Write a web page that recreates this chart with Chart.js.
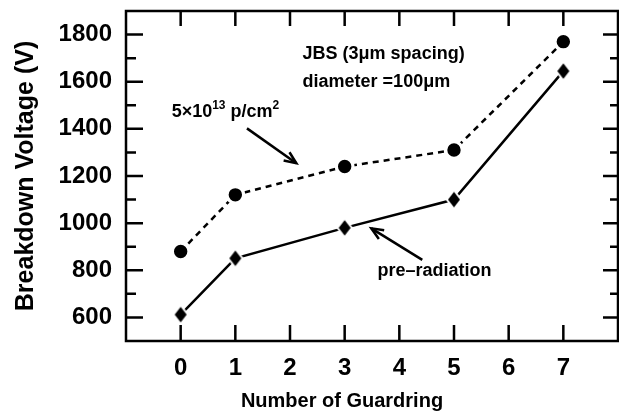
<!DOCTYPE html>
<html>
<head>
<meta charset="utf-8">
<script src="https://cdn.jsdelivr.net/npm/chart.js@4.4.1/dist/chart.umd.min.js"></script>
<style>
  html, body { margin: 0; padding: 0; background: #fff; }
</style>
</head>
<body>
<canvas id="myChart" width="619" height="416"></canvas>
<script>
// data
const guardrings = [0, 1, 3, 5, 7];
const irradiated = [880, 1120, 1240, 1310, 1770];    // 5x10^13 p/cm2 (circles, dashed)
const preRadiation = [612, 851, 980, 1100, 1645];    // pre-radiation (diamonds, solid)

const xTickValues = [0, 1, 2, 3, 4, 5, 6, 7];
const yTickValues = [600, 800, 1000, 1200, 1400, 1600, 1800];
const yMinorValues = [700, 900, 1100, 1300, 1500, 1700];

const FONT = '"Liberation Sans", Arial, Helvetica, sans-serif';

// in-plot labels, anchored in data units
const notes = [
    { text: 'JBS (3\u03bcm spacing)', x: 2.23, y: 1698 },
    { text: 'diameter =100\u03bcm', x: 2.23, y: 1578 },
    { text: 'pre\u2013radiation', x: 3.60, y: 774 }
];
const fluenceLabel = { x: -0.165, y: 1452 };
const arrows = [
    { from: [1.213, 1402], to: [2.116, 1254] },
    { from: [4.42, 844], to: [3.488, 978] }
];

// diamond marker with a white halo so the line stops short of it
function makeDiamond(hw, hh, halo) {
    const c = document.createElement('canvas');
    c.width = Math.ceil(2 * (hw + halo)) + 2;
    c.height = Math.ceil(2 * (hh + halo)) + 2;
    const g = c.getContext('2d');
    const cx = c.width / 2, cy = c.height / 2;
    const shape = (w, h, color) => {
        g.beginPath();
        g.moveTo(cx, cy - h);
        g.lineTo(cx + w, cy);
        g.lineTo(cx, cy + h);
        g.lineTo(cx - w, cy);
        g.closePath();
        g.fillStyle = color;
        g.fill();
    };
    shape(hw + halo * 0.8, hh + halo, '#fff');
    shape(hw, hh, '#000');
    return c;
}

function drawArrow(ctx, x0, y0, x1, y1) {
    const ang = Math.atan2(y1 - y0, x1 - x0);
    const len = 13, spread = 0.4;
    ctx.beginPath();
    ctx.moveTo(x0, y0);
    ctx.lineTo(x1, y1);
    ctx.stroke();
    ctx.beginPath();
    ctx.moveTo(x1 - len * Math.cos(ang - spread), y1 - len * Math.sin(ang - spread));
    ctx.lineTo(x1, y1);
    ctx.lineTo(x1 - len * Math.cos(ang + spread), y1 - len * Math.sin(ang + spread));
    ctx.stroke();
}

// no extra room around the scales; the layout padding decides the box
function noScalePadding(scale) {
    scale.paddingLeft = 0;
    scale.paddingRight = 0;
    scale.paddingTop = 0;
    scale.paddingBottom = 0;
}

const framePlugin = {
    id: 'frame',
    afterDatasetsDraw(chart) {
        const { ctx, chartArea: a, scales: { x, y } } = chart;
        ctx.save();
        ctx.strokeStyle = '#000';
        ctx.fillStyle = '#000';
        ctx.lineWidth = 2.5;

        // box
        ctx.strokeRect(a.left, a.top, a.right - a.left, a.bottom - a.top);

        // inward ticks
        ctx.beginPath();
        xTickValues.forEach(v => {
            const px = x.getPixelForValue(v);
            ctx.moveTo(px, a.bottom); ctx.lineTo(px, a.bottom - 16);
            ctx.moveTo(px, a.top); ctx.lineTo(px, a.top + 15);
        });
        yTickValues.forEach(v => {
            const py = y.getPixelForValue(v);
            ctx.moveTo(a.left, py); ctx.lineTo(a.left + 17, py);
            ctx.moveTo(a.right, py); ctx.lineTo(a.right - 15, py);
        });
        yMinorValues.forEach(v => {
            const py = y.getPixelForValue(v);
            ctx.moveTo(a.left, py); ctx.lineTo(a.left + 10, py);
            ctx.moveTo(a.right, py); ctx.lineTo(a.right - 8, py);
        });
        ctx.stroke();

        // annotations
        ctx.textBaseline = 'alphabetic';
        ctx.textAlign = 'left';
        ctx.font = 'bold 18px ' + FONT;
        notes.forEach(n => {
            ctx.fillText(n.text, x.getPixelForValue(n.x), y.getPixelForValue(n.y));
        });

        // 5x10^13 p/cm^2 with superscripts
        let fx = x.getPixelForValue(fluenceLabel.x);
        const fy = y.getPixelForValue(fluenceLabel.y);
        [['5\u00d710', false], ['13', true], [' p/cm', false], ['2', true]].forEach(([t, sup]) => {
            ctx.font = (sup ? 'bold 12px ' : 'bold 18px ') + FONT;
            ctx.fillText(t, fx, sup ? fy - 8 : fy);
            fx += ctx.measureText(t).width;
        });

        ctx.lineWidth = 2.5;
        arrows.forEach(ar => {
            drawArrow(ctx,
                x.getPixelForValue(ar.from[0]), y.getPixelForValue(ar.from[1]),
                x.getPixelForValue(ar.to[0]), y.getPixelForValue(ar.to[1]));
        });

        // x axis title (sits left of centre in the original)
        ctx.font = 'bold 20px ' + FONT;
        ctx.textAlign = 'center';
        ctx.fillText('Number of Guardring', (a.left + a.right) / 2 - 30, chart.height - 9.5);
        ctx.restore();
    }
};

Chart.defaults.color = '#000';

const ctx = document.getElementById('myChart');

const myChart = new Chart(ctx, {
    type: 'line',
    data: {
        datasets: [
            {
                label: '5x10^13 p/cm2',
                data: guardrings.map((g, i) => ({ x: g, y: irradiated[i] })),
                borderColor: '#000',
                borderWidth: 2.5,
                borderDash: [6, 5],
                pointStyle: 'circle',
                pointRadius: 8.3,
                pointBorderWidth: 3.2,
                pointBackgroundColor: '#000',
                pointBorderColor: '#fff',
                tension: 0,
                fill: false
            },
            {
                label: 'pre-radiation',
                data: guardrings.map((g, i) => ({ x: g, y: preRadiation[i] })),
                borderColor: '#000',
                borderWidth: 2.5,
                pointStyle: makeDiamond(6, 7.8, 3),
                pointRadius: 8,
                tension: 0,
                fill: false
            }
        ]
    },
    options: {
        responsive: false,
        animation: false,
        devicePixelRatio: 1,
        layout: {
            autoPadding: false,
            padding: { top: 11, right: 1, left: 0, bottom: 0 }
        },
        scales: {
            x: {
                type: 'linear',
                min: -1,
                max: 8,
                afterBuildTicks: scale => {
                    scale.ticks = xTickValues.map(v => ({ value: v }));
                },
                afterFit: scale => {
                    scale.height = 75;
                    noScalePadding(scale);
                },
                grid: { display: false, drawTicks: false },
                border: { display: false },
                ticks: {
                    padding: 13,
                    autoSkip: false,
                    maxRotation: 0,
                    font: { family: FONT, size: 24, weight: 'bold' },
                    color: '#000',
                    callback: v => String(v)
                }
            },
            y: {
                type: 'linear',
                min: 500,
                max: 1900,
                afterBuildTicks: scale => {
                    scale.ticks = yTickValues.map(v => ({ value: v }));
                },
                afterFit: scale => {
                    scale.width = 126;
                    noScalePadding(scale);
                },
                grid: { display: false, drawTicks: false },
                border: { display: false },
                ticks: {
                    padding: 14,
                    autoSkip: false,
                    font: { family: FONT, size: 24, weight: 'bold' },
                    color: '#000',
                    callback: v => String(v)
                },
                title: {
                    display: true,
                    text: 'Breakdown Voltage (V)',
                    color: '#000',
                    font: { family: FONT, size: 25, weight: 'bold' },
                    padding: { top: 11, bottom: 0 }
                }
            }
        },
        plugins: {
            legend: { display: false },
            tooltip: { enabled: false }
        }
    },
    plugins: [framePlugin]
});
</script>
</body>
</html>
